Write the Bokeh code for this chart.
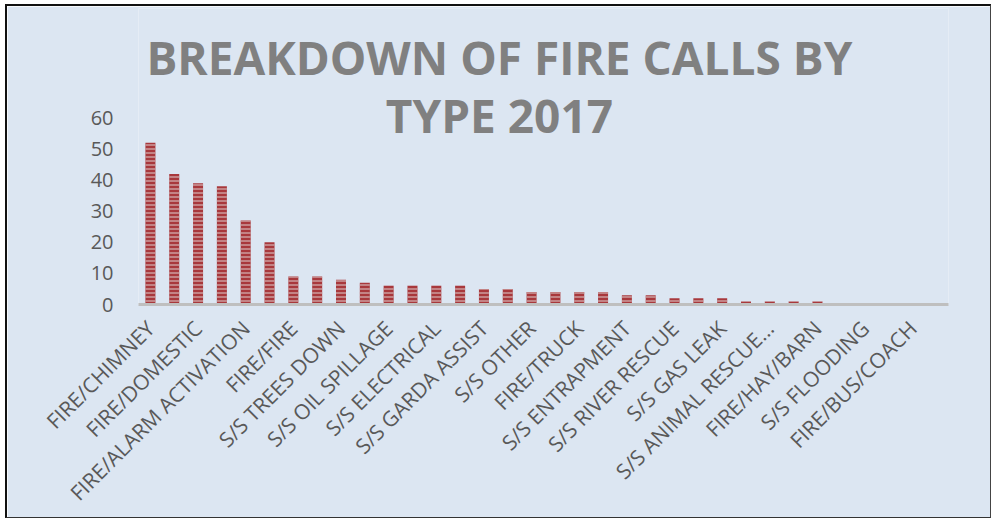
import math
from bokeh.plotting import figure
from bokeh.models import Range1d, FixedTicker, Label, ColumnDataSource
from bokeh.embed import file_html
from bokeh.resources import INLINE

# ---- data ----
visible_labels = ["FIRE/CHIMNEY", "FIRE/DOMESTIC", "FIRE/ALARM ACTIVATION", "FIRE/FIRE",
                  "S/S TREES DOWN", "S/S OIL SPILLAGE", "S/S ELECTRICAL", "S/S GARDA ASSIST",
                  "S/S OTHER", "FIRE/TRUCK", "S/S ENTRAPMENT", "S/S RIVER RESCUE",
                  "S/S GAS LEAK", "S/S ANIMAL RESCUE...", "FIRE/HAY/BARN", "S/S FLOODING",
                  "FIRE/BUS/COACH"]
calls = [52, 42, 39, 38, 27, 20, 9, 9, 8, 7, 6, 6, 6, 6, 5, 5, 4, 4, 4, 4,
         3, 3, 2, 2, 2, 1, 1, 1, 1, 0, 0, 0, 0, 0]
y_ticks = [0, 10, 20, 30, 40, 50, 60]
title_lines = ["BREAKDOWN OF FIRE CALLS BY", "TYPE 2017"]

BG = "#DCE6F2"
TXT = "#595959"

idx = list(range(len(calls)))
src = ColumnDataSource(dict(x=idx, top=calls))

p = figure(width=986, height=514, output_backend="svg", toolbar_location=None,
           x_range=Range1d(-0.5, len(calls) - 0.5), y_range=Range1d(0, 95.2),
           min_border_left=131, min_border_right=45, min_border_top=2,
           min_border_bottom=216)
p.margin = (4, 0, 0, 5)
p.background_fill_color = BG
p.border_fill_color = BG
p.outline_line_color = None
p.grid.visible = False

p.vbar(x="x", top="top", width=0.42, bottom=0, source=src,
       fill_color="#A8383C", line_color=None,
       hatch_pattern="horizontal_line", hatch_color="#CFA3A5",
       hatch_scale=4, hatch_weight=1.4)

# y axis
p.yaxis.ticker = FixedTicker(ticks=y_ticks)
p.yaxis.axis_line_color = None
p.yaxis.major_tick_line_color = None
p.yaxis.minor_tick_line_color = None
p.yaxis.major_label_standoff = 19
p.yaxis.major_label_text_font = "Open Sans"
p.yaxis.major_label_text_font_size = "20px"
p.yaxis.major_label_text_color = TXT

# x axis
p.xaxis.ticker = FixedTicker(ticks=[2 * i for i in range(len(visible_labels))])
p.xaxis.major_label_overrides = {2 * i: lab for i, lab in enumerate(visible_labels)}
p.xaxis.major_label_orientation = math.pi / 4
p.xaxis.axis_line_color = "#BFBFBF"
p.xaxis.axis_line_width = 3
p.xaxis.major_tick_line_color = None
p.xaxis.minor_tick_line_color = None
p.xaxis.major_label_standoff = 14
p.xaxis.major_label_text_font = "Open Sans"
p.xaxis.major_label_text_font_size = "21px"
p.xaxis.major_label_text_color = TXT

# title (two centred lines), placed in the plot's coordinate space
for line, ys in zip(title_lines, [79.5, 61.0]):
    p.add_layout(Label(x=14.65, y=ys, text=line,
                       text_align="center", text_baseline="alphabetic",
                       text_font="Open Sans", text_font_style="bold",
                       text_font_size="46px", text_color="#808080"))

p.styles = {"border-left": "2px solid #111", "border-top": "2px solid #111",
            "border-right": "1px solid #444", "border-bottom": "1px solid #333"}

open("out.html", "w").write(file_html(p, INLINE))
